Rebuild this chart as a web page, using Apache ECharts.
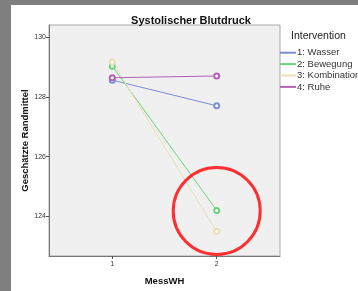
<!DOCTYPE html>
<html>
<head>
<meta charset="utf-8">
<script src="https://cdn.jsdelivr.net/npm/echarts@6/dist/echarts.min.js"></script>
<style>
  html, body { margin:0; padding:0; background:#7f7f7f; }
  #paper { position:absolute; left:11px; top:5px; right:0; bottom:0; background:#fff; }
  #main { position:absolute; left:0; top:0; width:358px; height:291px; }
</style>
</head>
<body>
<div id="paper"></div>
<div id="main"></div>
<script>
var messWH = [1, 2];
var groups = ['1: Wasser', '2: Bewegung', '3: Kombination', '4: Ruhe'];
var wasser = [128.57, 127.71];
var bewegung = [129.04, 124.20];
var kombination = [129.18, 123.49];
var ruhe = [128.65, 128.71];
var yTicks = [124, 126, 128, 130];
var ringAt = [2, 124.18];
var colors = ['#7b8ed6', '#6cd47a', '#e8e1b4', '#b360b8'];

function pairs(vals){
	var out = [];
	for(var i=0;i<messWH.length;i++){
		out.push([messWH[i], vals[i]]);
	}
	return out;
}

var allVals = [wasser, bewegung, kombination, ruhe];
var series = [];
for(var i=0;i<groups.length;i++){
	series.push({
		name: groups[i],
		type: 'line',
		data: pairs(allVals[i]),
		symbol: 'emptyCircle',
		symbolSize: 5,
		lineStyle: { width: 1, color: colors[i] },
		itemStyle: { color: colors[i], borderWidth: 1 },
		emphasis: { disabled: true }
	});
}
// red annotation ring around the second measurement
series.push({
	name: 'ring',
	type: 'scatter',
	data: [ringAt],
	symbol: 'circle',
	symbolSize: 87,
	itemStyle: { color: 'rgba(0,0,0,0)', borderColor: '#ff0000', borderWidth: 3 },
	silent: true,
	z: 10
});

var chart = echarts.init(document.getElementById('main'));
var font = '"Liberation Sans", Arial, sans-serif';
chart.setOption({
	animation: false,
	textStyle: { fontFamily: font },
	color: colors,
	title: [
		{ text: 'Systolischer Blutdruck', left: 186, top: 10, textAlign: 'center',
		  textStyle: { fontSize: 11, fontWeight: 'bold', color: '#111', fontFamily: font } },
		{ text: 'Intervention', left: 286, top: 26,
		  textStyle: { fontSize: 10.5, fontWeight: 'normal', color: '#222', fontFamily: font } }
	],
	legend: {
		orient: 'vertical',
		left: 275, top: 42,
		itemWidth: 16, itemHeight: 2, itemGap: 0,
		icon: 'rect',
		data: groups,
		textStyle: { fontSize: 9.5, color: '#333', padding: [0,0,0,-4], lineHeight: 11.4, fontFamily: font },
		selectedMode: false
	},
	grid: {
		left: 49, top: 25, right: 78, bottom: 32,
		show: true, backgroundColor: '#f0f0f0', borderColor: '#a8a8a8', borderWidth: 1
	},
	xAxis: {
		type: 'value', min: 0.394, max: 2.606,
		name: 'MessWH', nameLocation: 'middle', nameGap: 20, nameMoveOverlap: false,
		nameTextStyle: { fontSize: 9.5, fontWeight: 'bold', color: '#111' },
		axisLine: { lineStyle: { color: '#777' } },
		axisTick: { customValues: messWH, length: 3, lineStyle: { color: '#555' } },
		axisLabel: {
			customValues: messWH, showMinLabel: true, showMaxLabel: true, hideOverlap: false,
			fontSize: 7, color: '#333', margin: 5
		},
		splitLine: { show: false }
	},
	yAxis: {
		type: 'value', min: 122.67, max: 130.42,
		name: 'Geschätzte Randmittel', nameLocation: 'middle', nameGap: 19, nameMoveOverlap: false,
		nameTextStyle: { fontSize: 9.5, fontWeight: 'bold', color: '#111' },
		axisLine: { show: true, lineStyle: { color: '#777' } },
		axisTick: { show: true, customValues: yTicks, length: 3, lineStyle: { color: '#555' } },
		axisLabel: { customValues: yTicks, fontSize: 7, color: '#333', margin: 3 },
		splitLine: { show: false }
	},
	series: series
});
</script>
</body>
</html>
